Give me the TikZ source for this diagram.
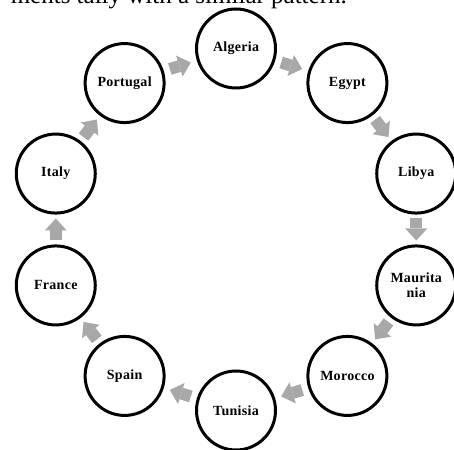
\documentclass[tikz,border=0pt]{standalone}
\usepackage{fontspec}
\setmainfont{Liberation Serif}
\usetikzlibrary{calc,arrows.meta}
\definecolor{arrowgray}{RGB}{168,168,168}
\begin{document}
\begin{tikzpicture}[x=1pt,y=1pt,
  country/.style={circle,draw=black,line width=3pt,fill=white,minimum size=79pt,inner sep=0pt,align=center,
    font=\fontsize{14}{14.5}\selectfont\bfseries\addfontfeatures{LetterSpace=2}},
  flow/.style={draw=arrowgray,line width=12pt,-{Triangle[length=12pt,width=22pt,line width=0pt]}}]
\useasboundingbox (0,0) rectangle (454,449);
\fill[white] (0,0) rectangle (454,449);
\node[anchor=base east,inner sep=0pt,font=\fontsize{25}{30}\selectfont] (cap) at (347,445) {ments tally with a similar pattern.};
\foreach \name/\ang/\txt in {alg/90/Algeria,egy/54/Egypt,lib/18/Libya,mau/-18/{Maurita\\nia},mor/-54/Morocco,
  tun/-90/Tunisia,spa/-126/Spain,fra/-162/France,ita/162/Italy,por/126/Portugal}
  \node[country] (\name) at ({236+189.5*cos(\ang)},{219.5+181*sin(\ang)}) {\txt};
\foreach \a/\b in {alg/egy,egy/lib,lib/mau,mau/mor,mor/tun,tun/spa,spa/fra,fra/ita,ita/por,por/alg}
  \draw[flow] ($(\a)!0.5!(\b)!11pt!(\a)$) -- ($(\a)!0.5!(\b)!11pt!(\b)$);
\end{tikzpicture}
\end{document}
